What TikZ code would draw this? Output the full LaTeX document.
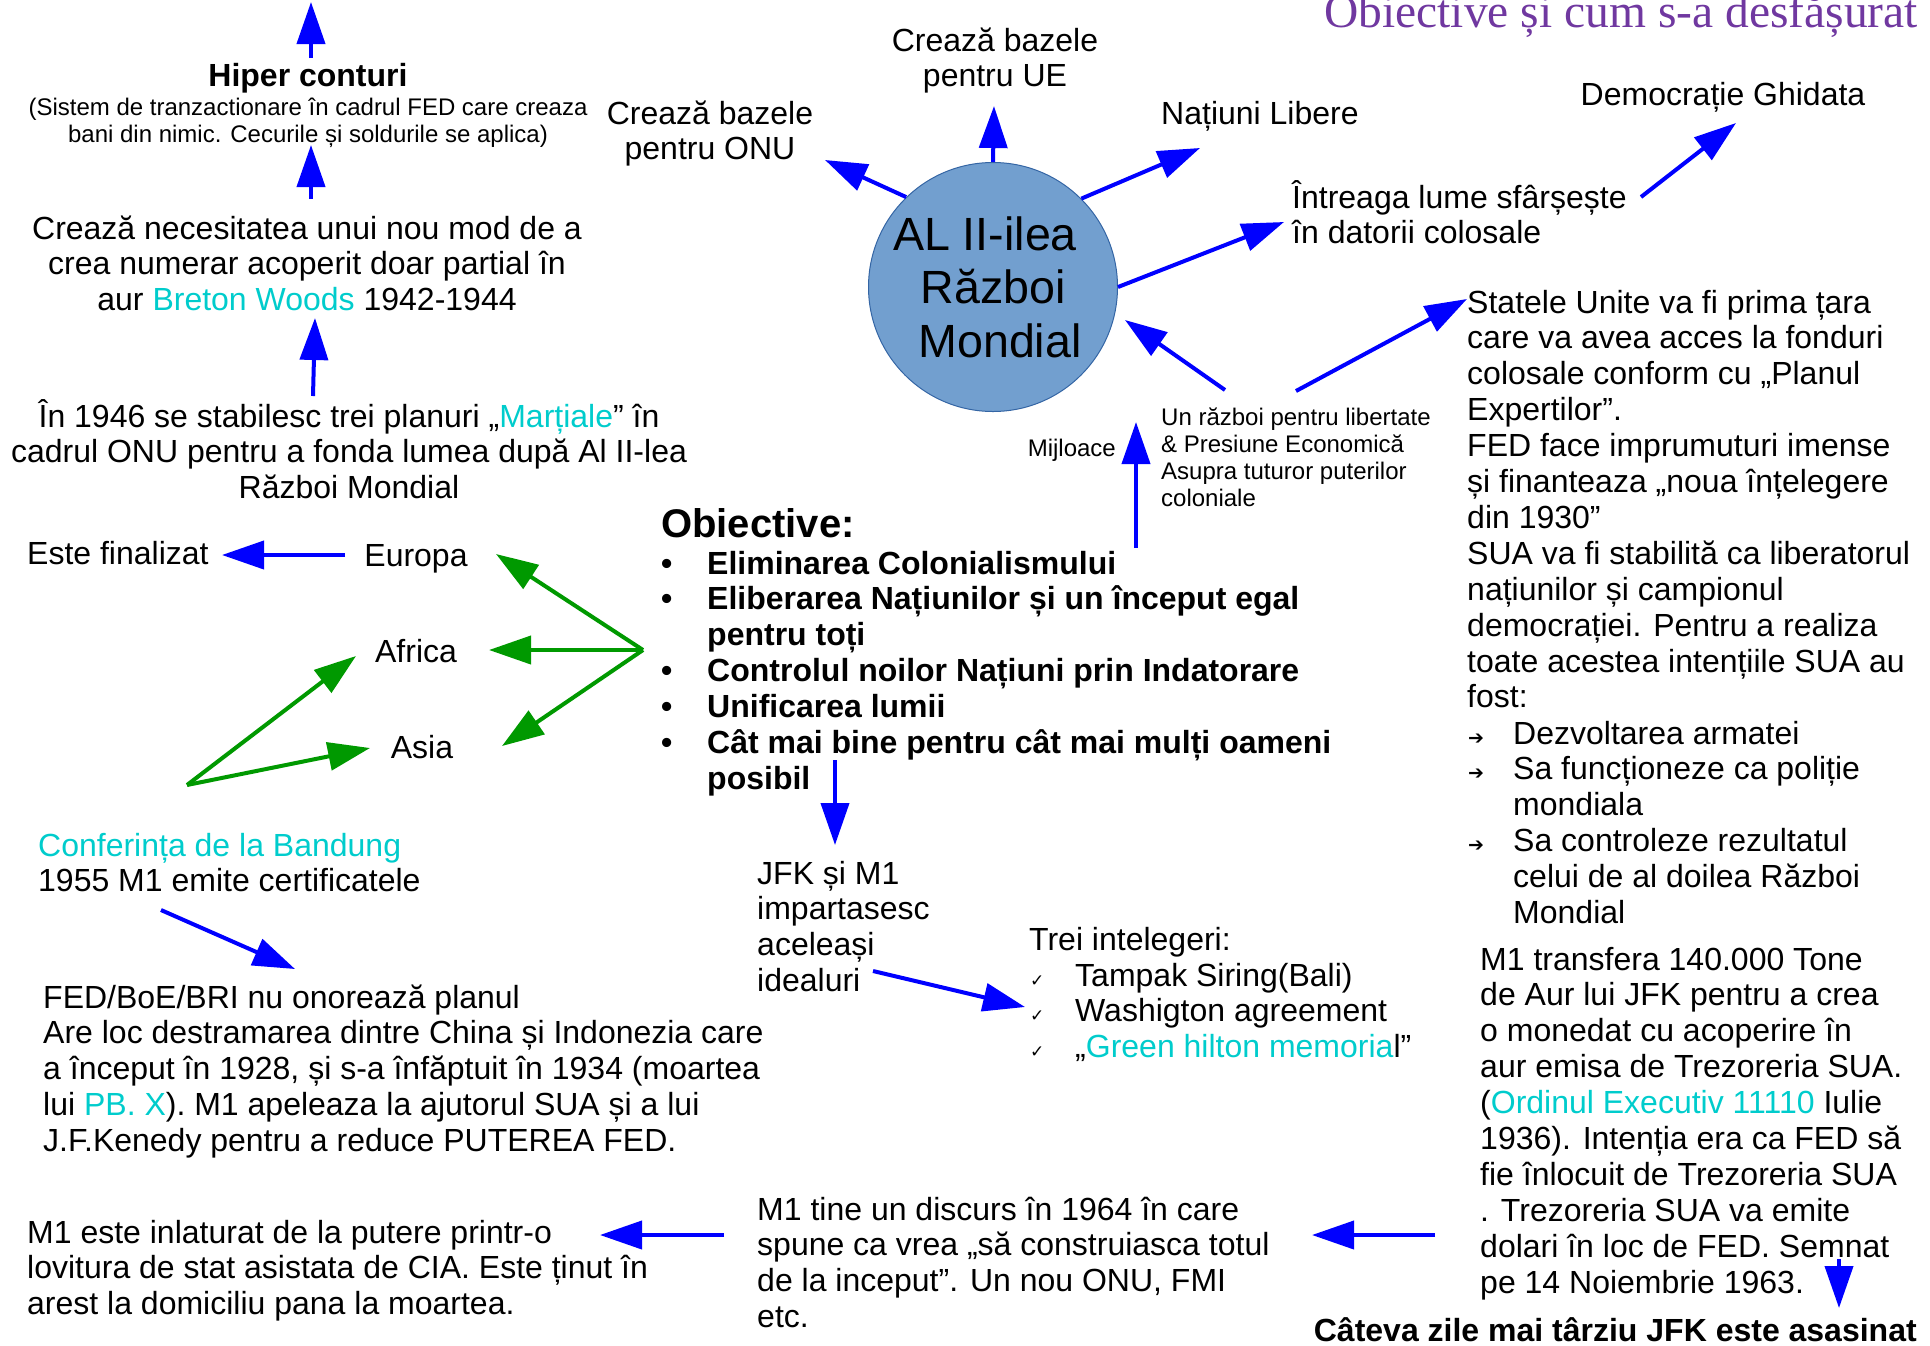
\documentclass[tikz,border=0pt]{standalone}
\usepackage{fontspec}
\setmainfont{Liberation Sans}
\newfontfamily\serifT{Liberation Serif}
\newfontfamily\djv{DejaVu Sans}
\usetikzlibrary{arrows.meta}
\definecolor{cyT}{RGB}{0,204,204}
\definecolor{grA}{RGB}{0,153,0}
\definecolor{blA}{RGB}{0,0,255}
\definecolor{circF}{HTML}{729FCF}
\definecolor{circD}{HTML}{3465A4}
\definecolor{purT}{RGB}{112,56,160}
\newcommand{\cyn}[1]{\textcolor{cyT}{#1}}
\begin{document}
\begin{tikzpicture}[x=1pt,y=-1pt,
  txt/.style={inner sep=0pt, font=\fontsize{32}{35.9}\selectfont, align=left},
  txtc/.style={txt, align=center},
  boldtxt/.style={inner sep=0pt, font=\bfseries\fontsize{32}{35.9}\selectfont, align=left},
  sml/.style={inner sep=0pt, font=\fontsize{24}{27.1}\selectfont, align=left},
  arr/.style={blA, line width=4pt, -{Triangle[length=42pt,width=28pt]}},
  garr/.style={grA, line width=4pt, -{Triangle[length=42pt,width=28pt]}}]
\useasboundingbox (0,0) rectangle (1930,1345);

% title (cut at top)
\node[anchor=base east, inner sep=0pt, font=\serifT\fontsize{47.5}{55}\selectfont, text=purT] (title) at (1918,27) {Obiective și cum s-a desfășurat};

% left column
\node[boldtxt, anchor=base] (hiper) at (308,86) {Hiper conturi};
\node[sml, align=center, anchor=base] (hipersub) at (308,115+27.1) {(Sistem de tranzactionare în cadrul FED care creaza\\bani din nimic. Cecurile și soldurile se aplica)};
\node[txtc, anchor=base] (necesit) at (307,239+2*35.9) {Crează necesitatea unui nou mod de a\\crea numerar acoperit doar partial în\\aur \cyn{Breton Woods} 1942-1944};
\node[txtc, anchor=base] (plan) at (349,427+2*35.9) {În 1946 se stabilesc trei planuri „\cyn{Marțiale}” în\\cadrul ONU pentru a fonda lumea după Al II-lea\\Război Mondial};

\coordinate (hipS) at (311,58); \coordinate (topT) at (311,2);
\draw[arr] (hipS) -- (topT);
\coordinate (necS) at (311,199); \coordinate (hipT) at (311,145);
\draw[arr] (necS) -- (hipT);
\coordinate (planS) at (313,396); \coordinate (necT) at (315,318);
\draw[arr] (planS) -- (necT);

\node[txt, anchor=base west] (fin) at (27,564) {Este finalizat};
\node[txt, anchor=base] (europa) at (416,566) {Europa};
\node[txt, anchor=base] (africa) at (416,662) {Africa};
\node[txt, anchor=base] (asia) at (422,758) {Asia};
\coordinate (euS) at (345,555); \coordinate (finT) at (222,555);
\draw[arr] (euS) -- (finT);

\coordinate (gR) at (643,650);
\coordinate (euT) at (496,554); \coordinate (afT) at (489,650); \coordinate (asT) at (502,746);
\draw[garr] (gR) -- (euT);
\draw[garr] (gR) -- (afT);
\draw[garr] (gR) -- (asT);
\coordinate (gL) at (187,785);
\coordinate (afT2) at (356,656); \coordinate (asT2) at (370,748);
\draw[garr] (gL) -- (afT2);
\draw[garr] (gL) -- (asT2);

\node[txt, anchor=base west] (band) at (38,856+35.9) {\cyn{Conferința de la Bandung}\\1955 M1 emite certificatele};
\coordinate (bandS) at (161,910); \coordinate (fedT) at (295,969);
\draw[arr] (bandS) -- (fedT);

\node[txt, anchor=base west] (fed) at (43,1008+4*35.9) {FED/BoE/BRI nu onorează planul\\Are loc destramarea dintre China și Indonezia care\\a început în 1928, și s-a înfăptuit în 1934 (moartea\\lui \cyn{PB. X}). M1 apeleaza la ajutorul SUA și a lui\\J.F.Kenedy pentru a reduce PUTEREA FED.};

\node[txt, anchor=base west] (inl) at (27,1243+2*35.9) {M1 este inlaturat de la putere printr-o\\lovitura de stat asistata de CIA. Este ținut în\\arest la domiciliu pana la moartea.};
\node[txt, anchor=base west] (disc) at (757,1220+3*35.9) {M1 tine un discurs în 1964 în care\\spune ca vrea „să construiasca totul\\de la inceput”. Un nou ONU, FMI\\etc.};
\coordinate (discS) at (724,1235); \coordinate (inlT) at (600,1235);
\draw[arr] (discS) -- (inlT);
\coordinate (m1S) at (1435,1235); \coordinate (discT) at (1312,1235);
\draw[arr] (m1S) -- (discT);

% centre
\node[circle, draw=circD, fill=circF, line width=1pt, minimum size=249pt, inner sep=0pt,
      font=\fontsize{46.6}{53.5}\selectfont, align=center] (war) at (993,287) {AL II-ilea\hspace*{16pt}\\Război\\\hspace*{14pt}Mondial};

\node[txtc, anchor=base] (onu) at (710,124+35.9) {Crează bazele\\pentru ONU};
\node[txtc, anchor=base] (ue) at (995,51+35.9) {Crează bazele\\pentru UE};
\node[txt, anchor=base west] (lib) at (1161,124) {Națiuni Libere};
\node[txt, anchor=base] (dem) at (1723,105) {Democrație Ghidata};
\node[txt, anchor=base west] (intr) at (1292,208+35.9) {Întreaga lume sfârșește\\în datorii colosale};

\coordinate (onuT) at (825,160);
\draw[arr] (war.134) -- (onuT);
\coordinate (ueT) at (994,106);
\draw[arr] (war.north) -- (ueT);
\coordinate (libT) at (1200,148);
\draw[arr] (war.45) -- (libT);
\coordinate (intT) at (1284,222);
\draw[arr] (war.east) -- (intT);
\coordinate (intS) at (1641,197); \coordinate (demT) at (1736,123);
\draw[arr] (intS) -- (demT);

\node[sml, anchor=base west] (raz) at (1161,425+3*27.1) {Un război pentru libertate\\\& Presiune Economică\\Asupra tuturor puterilor\\coloniale};
\node[sml, anchor=base east] (mij) at (1116,456) {Mijloace};
\coordinate (razS) at (1225,390); \coordinate (warIn) at (1125,320);
\draw[arr] (razS) -- (warIn);
\coordinate (razS2) at (1296,391); \coordinate (statT) at (1467,299);
\draw[arr] (razS2) -- (statT);
\coordinate (mijS) at (1136,548); \coordinate (mijT) at (1136,422);
\draw[arr] (mijS) -- (mijT);

% objectives
\node[anchor=base west, inner sep=0pt, font=\bfseries\fontsize{40}{46}\selectfont] (obt) at (661,537) {Obiective:};
\node[boldtxt, anchor=base west] (obb) at (661,574+5*35.9) {•\\•\\\mbox{}\\•\\•\\•};
\node[boldtxt, anchor=base west] (obl) at (707,574+6*35.9) {Eliminarea Colonialismului\\Eliberarea Națiunilor și un început egal\\pentru toți\\Controlul noilor Națiuni prin Indatorare\\Unificarea lumii\\Cât mai bine pentru cât mai mulți oameni\\posibil};
\coordinate (posS) at (835,760); \coordinate (jfkT) at (835,845);
\draw[arr] (posS) -- (jfkT);

\node[txt, anchor=base west] (jfk) at (757,884+3*35.9) {JFK și M1\\impartasesc\\aceleași\\idealuri};
\node[txt, anchor=base west] (trei) at (1029,950) {Trei intelegeri:};
\node[inner sep=0pt, anchor=base west, font=\djv\fontsize{17}{35.9}\selectfont, align=left] (chk) at (1030,986+2*35.9) {✓\\✓\\✓};
\node[txt, anchor=base west] (treil) at (1075,986+2*35.9) {Tampak Siring(Bali)\\Washigton agreement\\„\cyn{Green hilton memoria}l”};
\coordinate (jfkS) at (873,971); \coordinate (treiT) at (1025,1007);
\draw[arr] (jfkS) -- (treiT);

% right column
\node[txt, anchor=base west] (stat) at (1467,313+11*35.9) {Statele Unite va fi prima țara\\care va avea acces la fonduri\\colosale conform cu „Planul\\Expertilor”.\\FED face imprumuturi imense\\și finanteaza „noua înțelegere\\din 1930”\\SUA va fi stabilită ca liberatorul\\națiunilor și campionul\\democrației. Pentru a realiza\\toate acestea intențiile SUA au\\fost:};
\node[inner sep=0pt, anchor=base west, font=\djv\fontsize{19}{35.9}\selectfont, align=left] (statb) at (1468,744+3*35.9) {➔\\➔\\\mbox{}\\➔};
\node[txt, anchor=base west] (statl) at (1513,744+5*35.9) {Dezvoltarea armatei\\Sa funcționeze ca poliție\\mondiala\\Sa controleze rezultatul\\celui de al doilea Război\\Mondial};

\node[txt, anchor=base west] (m1) at (1480,970+9*35.9) {M1 transfera 140.000 Tone\\de Aur lui JFK pentru a crea\\o monedat cu acoperire în\\aur emisa de Trezoreria SUA.\\(\cyn{Ordinul Executiv 11110} Iulie\\1936). Intenția era ca FED să\\fie înlocuit de Trezoreria SUA\\. Trezoreria SUA va emite\\dolari în loc de FED. Semnat\\pe 14 Noiembrie 1963.};
\coordinate (m1S2) at (1839,1259); \coordinate (catT) at (1839,1308);
\draw[arr] (m1S2) -- (catT);
\node[anchor=base east, inner sep=0pt, font=\bfseries\fontsize{32}{36}\selectfont] (cat) at (1917,1341) {Câteva zile mai târziu JFK este asasinat};
\end{tikzpicture}
\end{document}
